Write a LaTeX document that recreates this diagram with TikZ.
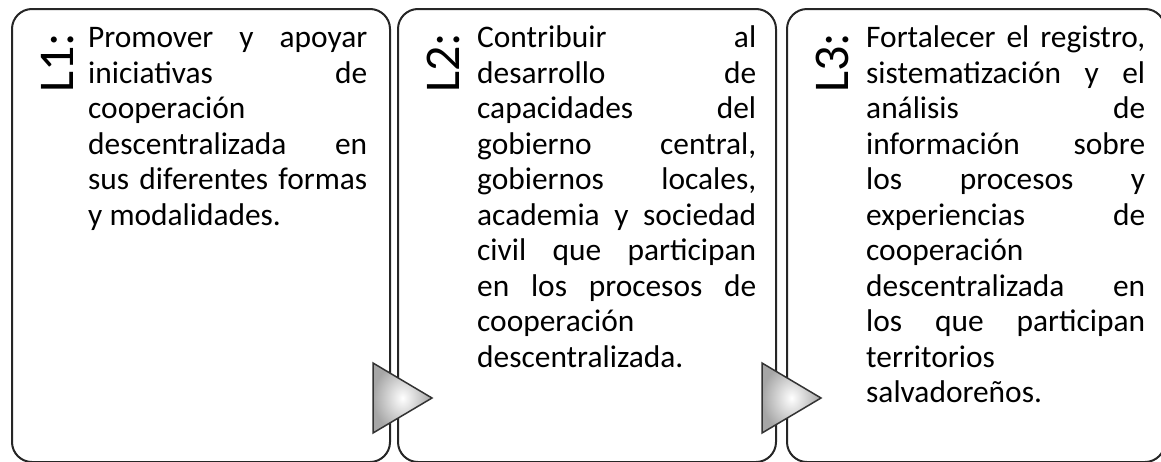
\documentclass[tikz,border=0pt]{standalone}
\usepackage{fontspec}
\setmainfont{Carlito}
\usetikzlibrary{calc}

\begin{document}
\begin{tikzpicture}
[x=1pt,y=-1pt,
  boxdecorate/.style={draw=black!85,line width=2pt,rounded corners=20pt},%
  labeldecorate/.style={rotate=90,anchor=base west,inner sep=0pt,font=\fontsize{50}{50}\selectfont},%
  textdecorate/.style={anchor=base west,inner sep=0pt,text width=279pt,align=justify,
    font=\fontsize{31.4}{35.5}\selectfont,execute at begin node={\hyphenpenalty 10000\relax}},%
  arrowdecorate/.style={draw=black!80,line width=1.5pt,inner color=white,outer color=black!35}]
\useasboundingbox (0,0) rectangle (1161,461);
\clip (0,0) rectangle (1161,461);
%% boxes and labels
\foreach \boxname/\x in {1/12, 2/398, 3/787}
{
  \draw[boxdecorate] (\x,9) rectangle ++(378,453);
  \node (label\boxname) at (\x+61,93) [labeldecorate] {L\boxname:};
}
%% texts
\foreach \boxname/\x/\boxtext in {1/88/{Promover y apoyar\linebreak
  iniciativas de\linebreak cooperación\linebreak descentralizada en\linebreak
  sus diferentes formas\linebreak y modalidades.},
  2/477/{Contribuir al\linebreak
  desarrollo de\linebreak capacidades del\linebreak gobierno central,\linebreak
  gobiernos locales,\linebreak academia y sociedad\linebreak
  civil que participan\linebreak en los procesos de\linebreak
  cooperación\linebreak descentralizada.},
  3/866/{Fortalecer el registro,\linebreak
  sistematización y el\linebreak análisis de\linebreak información sobre\linebreak
  los procesos y\linebreak experiencias de\linebreak cooperación\linebreak
  descentralizada en\linebreak los que participan\linebreak territorios\linebreak
  salvadoreños.}}
{
  \node (text\boxname) at (\x,47.7) [textdecorate] {\boxtext};
}
%% arrows between boxes
\foreach \arrowname/\x in {12/373, 23/762}
{
  \shade[arrowdecorate] (\x,363) -- ++(59,35) -- ++(-59,35) -- cycle;
}
\end{tikzpicture}
\end{document}
